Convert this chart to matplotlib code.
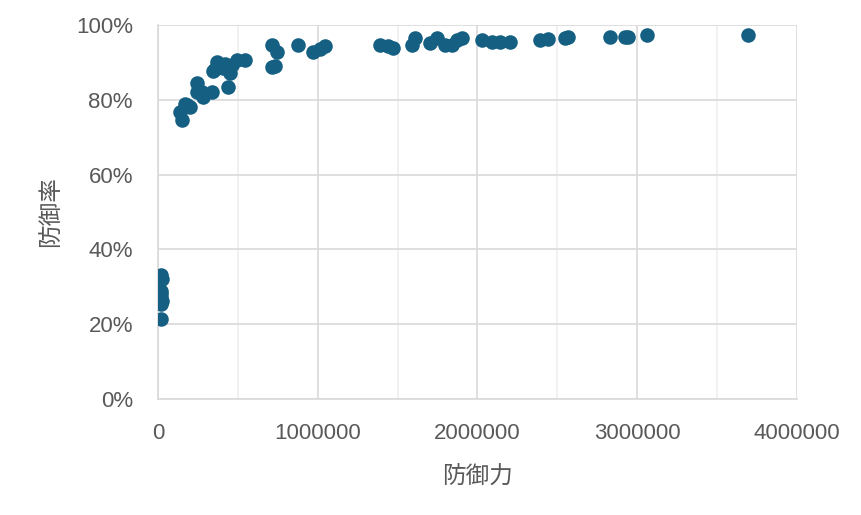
import numpy as np
import matplotlib.pyplot as plt
from matplotlib.ticker import MultipleLocator, FuncFormatter

# 防御力 (x) と 防御率 (y) のデータ
defense = [
    20000, 22000, 18000, 21000, 19000, 23000, 20000, 19000,
    148000, 138000, 169000, 200000, 180000, 242000, 242000, 284000, 336000, 273000,
    367000, 346000, 409000, 451000, 440000, 493000, 545000, 461000, 419000, 355000,
    712000, 743000, 712000, 730000, 878000, 972000, 1014000, 1045000,
    1390000, 1442000, 1473000, 1588000, 1609000, 1703000, 1745000, 1797000, 1838000,
    1870000, 1901000, 2026000, 2088000, 2141000, 2203000, 2391000, 2443000,
    2548000, 2569000, 2829000, 2923000, 2944000, 3059000, 3695000,
]
rate = [
    33.2, 32.0, 29.0, 28.2, 27.0, 26.2, 25.4, 21.5,
    74.6, 76.8, 79.0, 78.2, 78.6, 84.4, 82.2, 80.8, 82.2, 82.2,
    90.2, 87.6, 88.4, 87.1, 83.5, 90.6, 90.6, 89.3, 89.7, 88.2,
    94.6, 92.9, 88.9, 89.0, 94.6, 92.9, 93.5, 94.3,
    94.6, 94.4, 93.8, 94.6, 96.4, 95.1, 96.4, 94.6, 94.6,
    96.0, 96.4, 96.0, 95.5, 95.5, 95.5, 96.0, 96.2,
    96.4, 96.7, 96.9, 96.7, 96.7, 97.2, 97.3,
]

x = np.array(defense)
y = np.array(rate) / 100

plt.rcParams['font.family'] = ['Liberation Sans', 'Noto Sans CJK JP', 'DejaVu Sans']

fig = plt.figure(figsize=(8.62, 5.15), dpi=100)
ax = fig.add_axes([158/862, 1 - 399/515, (797-158)/862, (399-25)/515])

ax.scatter(x, y, s=110, color='#156082', zorder=3, linewidths=0)

ax.set_xlim(0, 4000000)
ax.set_ylim(0, 1.0)
ax.xaxis.set_major_locator(MultipleLocator(1000000))
ax.xaxis.set_minor_locator(MultipleLocator(500000))
ax.yaxis.set_major_locator(MultipleLocator(0.2))
ax.xaxis.set_major_formatter(FuncFormatter(lambda v, p: f'{int(v)}'))
ax.yaxis.set_major_formatter(FuncFormatter(lambda v, p: f'{v*100:.0f}%'))

ax.grid(True, which='major', color='#d9d9d9', linewidth=1.2, zorder=0)
ax.grid(True, which='minor', axis='x', color='#efefef', linewidth=1.2, zorder=0)
ax.set_axisbelow(True)

for s in ['top', 'right']:
    ax.spines[s].set_visible(False)
for s in ['left', 'bottom']:
    ax.spines[s].set_color('#d9d9d9')
    ax.spines[s].set_linewidth(1.2)

ax.tick_params(which='both', length=0, labelsize=16, labelcolor='#595959')
ax.tick_params(axis='y', pad=18)
ax.tick_params(axis='x', pad=17)

ax.set_xlabel('防御力', fontsize=17, color='#595959', family=['Noto Sans CJK JP'], labelpad=15)
ax.set_ylabel('防御率', fontsize=17, color='#595959', family=['Noto Sans CJK JP'], labelpad=10)

fig.savefig('out.png', dpi=100)
